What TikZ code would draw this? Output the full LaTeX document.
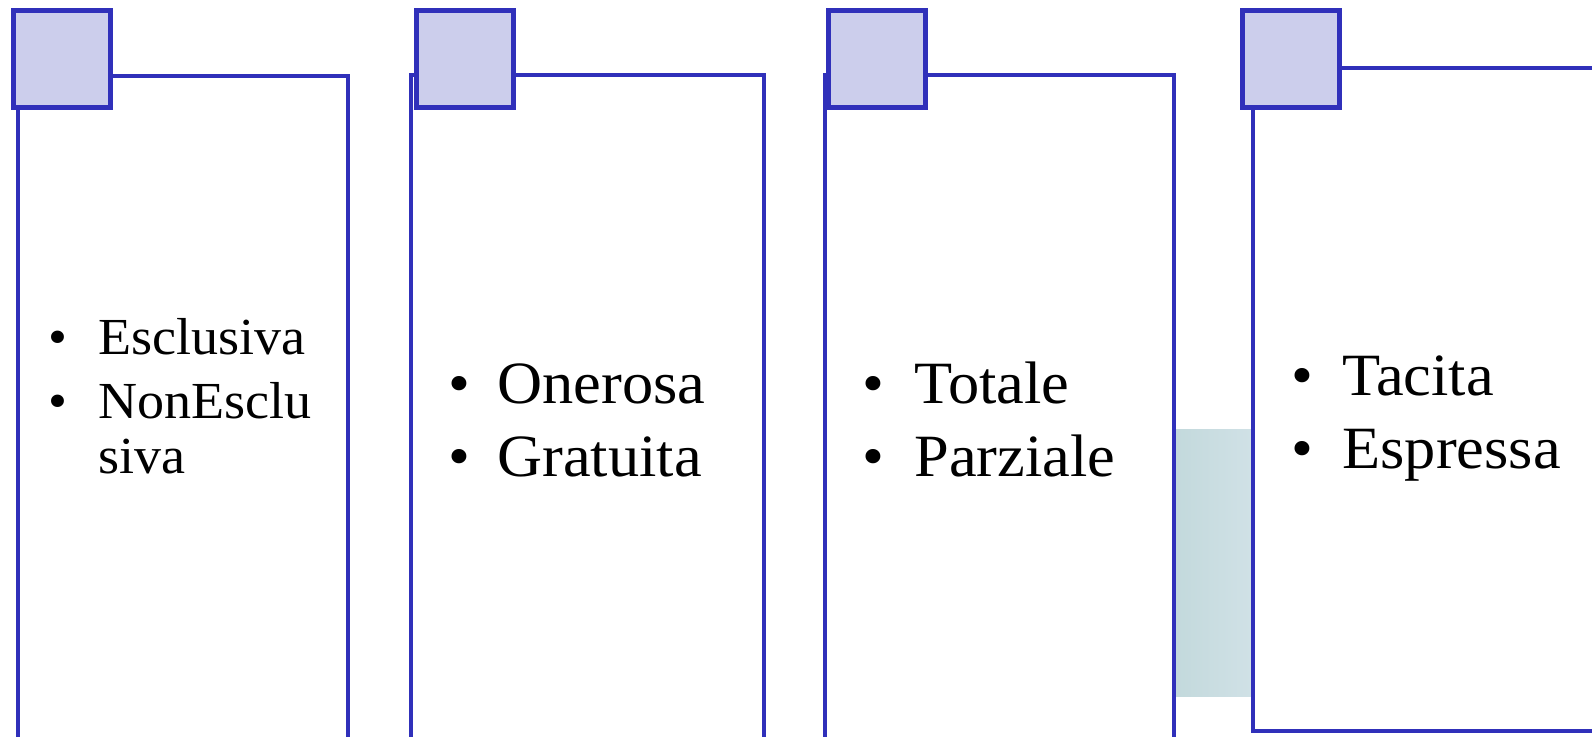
\documentclass[tikz,border=0pt]{standalone}
\usepackage{fontspec}
\setmainfont[FakeStretch=1.04]{Liberation Serif}
\definecolor{framec}{HTML}{3030BA}
\definecolor{tabc}{HTML}{CCCEEC}
\definecolor{bandl}{HTML}{C3D9DC}
\definecolor{bandr}{HTML}{D0E1E6}
\tikzset{
  panel/.style={draw=framec, line width=2.4pt},
  tab/.style={draw=framec, fill=tabc, line width=2.4pt, minimum size=48.5pt, inner sep=0pt},
  itm/.style={anchor=base west, inner sep=0pt, font=\fontsize{30pt}{36pt}\selectfont},
  dot/.style={anchor=base, inner sep=0pt, font=\fontsize{30pt}{36pt}\selectfont},
  smallitm/.style={itm, font=\fontsize{26pt}{30pt}\selectfont},
  smalldot/.style={dot, font=\fontsize{26pt}{30pt}\selectfont}
}

\begin{document}
\begin{tikzpicture}[x=0.5pt,y=-0.5pt]
	\useasboundingbox (0,0) rectangle (1592,737);
	\clip (0,0) rectangle (1592,737);
	% band between the third and fourth panel
	\fill[left color=bandl, right color=bandr] (1176,430) rectangle (1251,697);
	% panels
	\draw[panel] (18,76) rectangle (348,760);
	\draw[panel] (411,75) rectangle (764,760);
	\draw[panel] (825,75) rectangle (1174,760);
	\draw[panel] (1253,68) rectangle (1700,731);
	% tabs
	\node[tab] (t1) at (62,59) {};
	\node[tab] (t2) at (465,59) {};
	\node[tab] (t3) at (877,59) {};
	\node[tab] (t4) at (1291,59) {};
	% first panel
	\node[smalldot] (b11) at (58,355) {\textbullet};
	\node[smallitm] (esc) at (98,355) {Esclusiva};
	\node[smalldot] (b12) at (58,419) {\textbullet};
	\node[smallitm] (nonesc) at (98,419) {NonEsclu};
	\node[smallitm] (nonesc2) at (98,474) {siva};
	% second panel
	\node[dot] (b21) at (459,404) {\textbullet};
	\node[itm] (one) at (497,404) {Onerosa};
	\node[dot] (b22) at (459,477) {\textbullet};
	\node[itm] (gra) at (497,477) {Gratuita};
	% third panel
	\node[dot] (b31) at (873,404) {\textbullet};
	\node[itm] (tot) at (914,404) {Totale};
	\node[dot] (b32) at (873,477) {\textbullet};
	\node[itm] (par) at (914,477) {Parziale};
	% fourth panel
	\node[dot] (b41) at (1302,396) {\textbullet};
	\node[itm] (tac) at (1342,396) {Tacita};
	\node[dot] (b42) at (1302,469) {\textbullet};
	\node[itm] (esp) at (1342,469) {Espressa};
\end{tikzpicture}
\end{document}
